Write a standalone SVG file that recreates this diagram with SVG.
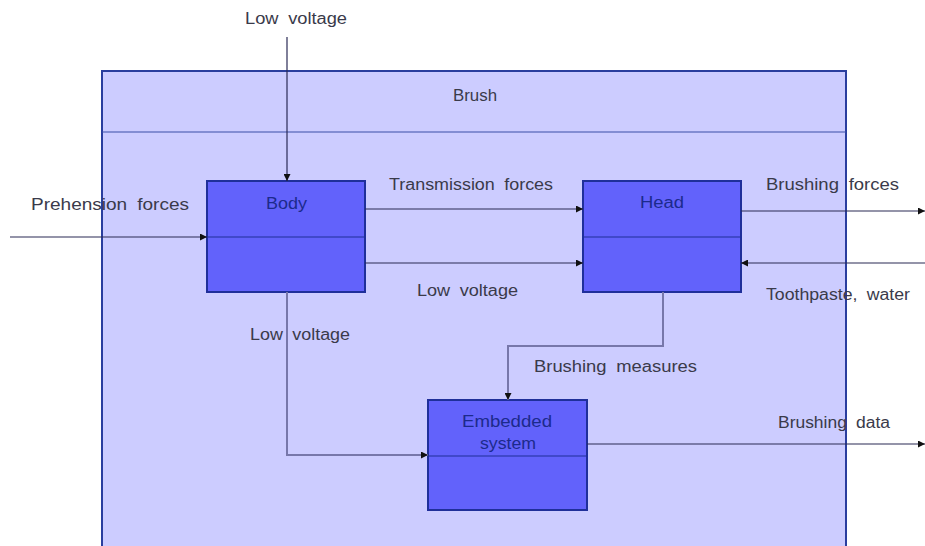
<svg xmlns="http://www.w3.org/2000/svg" width="925" height="546" viewBox="0 0 925 546">
<style>
.lbl{font-family:"Liberation Sans",Arial,sans-serif;font-size:16px;fill:#3a3a4a;word-spacing:4px}
.ntx{font-family:"Liberation Sans",Arial,sans-serif;font-size:16px;fill:#1c2a8c}
.node{fill:#6262fb;stroke:#1f2f9a;stroke-width:2}
.div{stroke:#1f2f9a;stroke-width:1.2}
.con{fill:none;stroke:#2a2a55;stroke-width:1.2;marker-end:url(#ah)}
.con2{fill:none;stroke:#7777aa;stroke-width:2;marker-end:url(#ah)}
</style>
<defs>
<marker id="ah" viewBox="0 0 10 10" refX="10" refY="5" markerWidth="7" markerHeight="7" markerUnits="userSpaceOnUse" orient="auto">
<path d="M0,0 L10,5 L0,10 z" fill="#111"/>
</marker>
</defs>
<rect width="925" height="546" fill="#ffffff"/>
<g id="brush">
<rect x="102" y="71" width="744" height="480" fill="#ccccff" stroke="#2a3e9e" stroke-width="2"/>
<line x1="102" y1="132" x2="846" y2="132" stroke="#3a4ea8" stroke-width="1.2"/>
<text class="lbl" x="453" y="101" textLength="44" lengthAdjust="spacingAndGlyphs">Brush</text>
</g>
<g id="body">
<rect class="node" x="207" y="181" width="158" height="111"/>
<line class="div" x1="207" y1="237" x2="365" y2="237"/>
<text class="ntx" x="266" y="209" textLength="41" lengthAdjust="spacingAndGlyphs">Body</text>
</g>
<g id="head">
<rect class="node" x="583" y="181" width="158" height="111"/>
<line class="div" x1="583" y1="237" x2="741" y2="237"/>
<text class="ntx" x="640" y="208" textLength="44" lengthAdjust="spacingAndGlyphs">Head</text>
</g>
<g id="embedded">
<rect class="node" x="428" y="400" width="159" height="110"/>
<line class="div" x1="428" y1="456" x2="587" y2="456"/>
<text class="ntx" x="462" y="427" textLength="90" lengthAdjust="spacingAndGlyphs">Embedded</text>
<text class="ntx" x="480" y="449" textLength="56" lengthAdjust="spacingAndGlyphs">system</text>
</g>
<g id="connectors">
<path class="con" d="M287,37 L287,181"/>
<path class="con" d="M10,237 L207,237"/>
<path class="con" d="M365,209 L583,209"/>
<path class="con" d="M365,263 L583,263"/>
<path class="con" d="M741,211 L925,211"/>
<path class="con" d="M925,263 L741,263"/>
<path class="con2" d="M287,292 L287,455 L428,455"/>
<path class="con2" d="M663,292 L663,346 L508,346 L508,400"/>
<path class="con" d="M587,444 L925,444"/>
</g>
<g id="labels">
<text class="lbl" x="245" y="24" textLength="102" lengthAdjust="spacingAndGlyphs">Low voltage</text>
<text class="lbl" x="31" y="210" textLength="158" lengthAdjust="spacingAndGlyphs">Prehension forces</text>
<text class="lbl" x="389" y="190" textLength="164" lengthAdjust="spacingAndGlyphs">Transmission forces</text>
<text class="lbl" x="766" y="190" textLength="133" lengthAdjust="spacingAndGlyphs">Brushing forces</text>
<text class="lbl" x="417" y="296" textLength="101" lengthAdjust="spacingAndGlyphs">Low voltage</text>
<text class="lbl" x="766" y="300" textLength="144" lengthAdjust="spacingAndGlyphs">Toothpaste, water</text>
<text class="lbl" x="250" y="340" textLength="100" lengthAdjust="spacingAndGlyphs">Low voltage</text>
<text class="lbl" x="534" y="372" textLength="163" lengthAdjust="spacingAndGlyphs">Brushing measures</text>
<text class="lbl" x="778" y="428" textLength="112" lengthAdjust="spacingAndGlyphs">Brushing data</text>
</g>
</svg>
